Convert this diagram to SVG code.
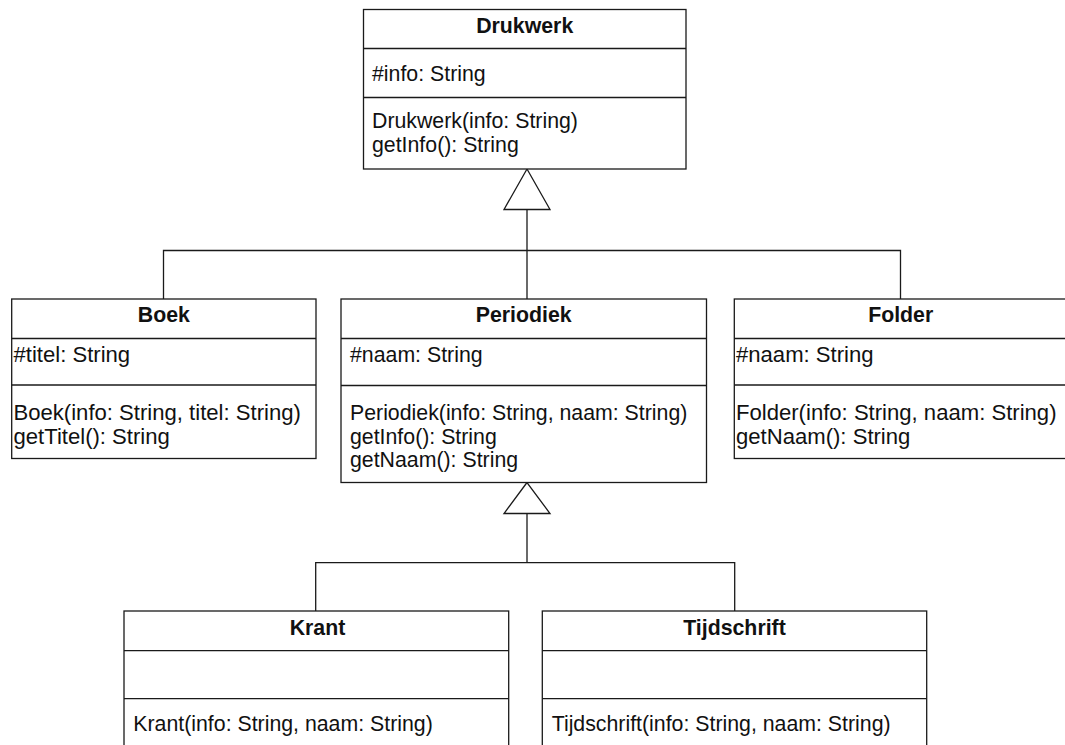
<svg xmlns="http://www.w3.org/2000/svg" width="1065" height="745" viewBox="0 0 1065 745">
  <style>
    .box { fill: #ffffff; stroke: #1a1a1a; stroke-width: 1.3; }
    .div { stroke: #1a1a1a; stroke-width: 1.3; }
    .edge { fill: none; stroke: #1a1a1a; stroke-width: 1.3; }
    .head { fill: #ffffff; stroke: #1a1a1a; stroke-width: 1.3; }
    text { font-family: "Liberation Sans", Arial, Helvetica, sans-serif; font-size: 21.3px; fill: #111111; }
    .wide text { font-size: 22.1px; }
    .title { font-weight: bold; text-anchor: middle; }
    .wide .title { font-size: 21.3px; }
  </style>
  <rect width="1065" height="745" fill="#ffffff"/>

  <!-- inheritance connectors -->
  <g id="connectors">
    <path class="edge" d="M527 209.5 V299"/>
    <path class="edge" d="M163.5 299 V250.5 H900.5 V299"/>
    <polygon class="head" points="527,169 504,209.5 550,209.5"/>
    <path class="edge" d="M527 513.5 V562.7"/>
    <path class="edge" d="M315.7 611 V562.7 H734.7 V611"/>
    <polygon class="head" points="527,482.5 504,513.5 550,513.5"/>
  </g>

  <g id="drukwerk">
    <rect class="box" x="363.5" y="9.5" width="322.5" height="159.5"/>
    <line class="div" x1="363.5" y1="48.5" x2="686" y2="48.5"/>
    <line class="div" x1="363.5" y1="97.5" x2="686" y2="97.5"/>
    <text class="title" x="524.7" y="33">Drukwerk</text>
    <text x="372" y="81">#info: String</text>
    <text x="372" y="128">Drukwerk(info: String)</text>
    <text x="372" y="151.5">getInfo(): String</text>
  </g>

  <g id="boek" class="wide">
    <rect class="box" x="11.7" y="299" width="304.3" height="159.5"/>
    <line class="div" x1="11.7" y1="338.5" x2="316" y2="338.5"/>
    <line class="div" x1="11.7" y1="385" x2="316" y2="385"/>
    <text class="title" x="163.8" y="322">Boek</text>
    <text x="13.5" y="362">#titel: String</text>
    <text x="13.5" y="420">Boek(info: String, titel: String)</text>
    <text x="13.5" y="443.5">getTitel(): String</text>
  </g>

  <g id="periodiek">
    <rect class="box" x="341" y="299" width="365.5" height="183.5"/>
    <line class="div" x1="341" y1="338.5" x2="706.5" y2="338.5"/>
    <line class="div" x1="341" y1="385.5" x2="706.5" y2="385.5"/>
    <text class="title" x="523.7" y="322">Periodiek</text>
    <text x="350" y="362">#naam: String</text>
    <text x="350" y="420">Periodiek(info: String, naam: String)</text>
    <text x="350" y="443.5">getInfo(): String</text>
    <text x="350" y="467">getNaam(): String</text>
  </g>

  <g id="folder" class="wide">
    <rect class="box" x="734.3" y="299" width="333" height="159.5"/>
    <line class="div" x1="734.3" y1="338.5" x2="1067.3" y2="338.5"/>
    <line class="div" x1="734.3" y1="385" x2="1067.3" y2="385"/>
    <text class="title" x="900.7" y="322">Folder</text>
    <text x="736" y="362">#naam: String</text>
    <text x="736" y="420">Folder(info: String, naam: String)</text>
    <text x="736" y="443.5">getNaam(): String</text>
  </g>

  <g id="krant">
    <rect class="box" x="124" y="611" width="384.7" height="150"/>
    <line class="div" x1="124" y1="650.7" x2="508.7" y2="650.7"/>
    <line class="div" x1="124" y1="698.7" x2="508.7" y2="698.7"/>
    <text class="title" x="317.5" y="635">Krant</text>
    <text x="133.3" y="731">Krant(info: String, naam: String)</text>
  </g>

  <g id="tijdschrift">
    <rect class="box" x="542.3" y="611" width="384.4" height="150"/>
    <line class="div" x1="542.3" y1="650.7" x2="926.7" y2="650.7"/>
    <line class="div" x1="542.3" y1="698.7" x2="926.7" y2="698.7"/>
    <text class="title" x="734.5" y="635">Tijdschrift</text>
    <text x="551.7" y="731">Tijdschrift(info: String, naam: String)</text>
  </g>
</svg>
